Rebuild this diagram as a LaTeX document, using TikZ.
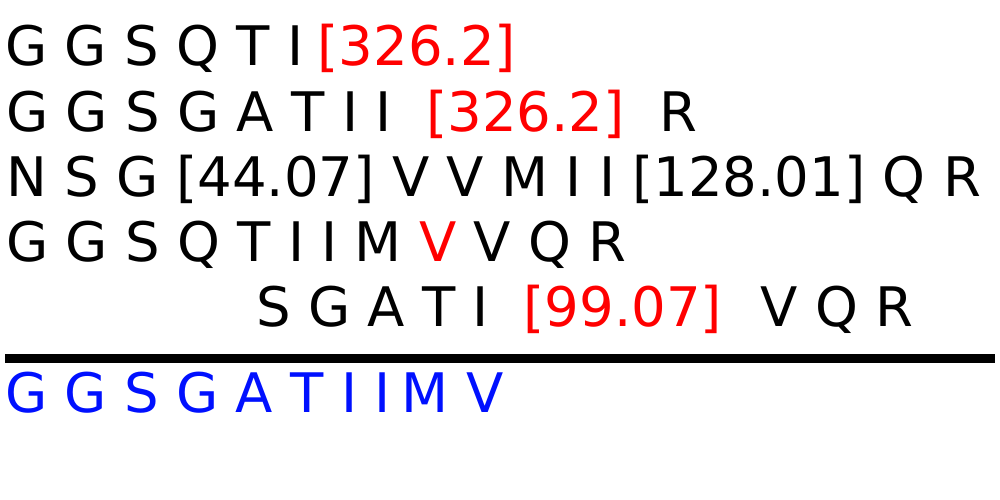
\documentclass[tikz,border=0pt]{standalone}
\usepackage{fontspec}
\setmainfont{DejaVu Sans}
\definecolor{myred}{RGB}{255,0,0}
\definecolor{myblue}{RGB}{0,16,255}
\begin{document}
\begin{tikzpicture}[x=1pt,y=-1pt,
  seq/.style={anchor=base west, inner sep=0pt, font=\fontsize{54.5}{66}\selectfont}]
\useasboundingbox (0,0) rectangle (1000,500);
\node[seq] (l1) at (5,66) {G G S Q T I\hspace{14.5pt}\textcolor{myred}{[326.2]}};
\node[seq] (l2) at (6,131.5) {G G S G A T I I\ \ \textcolor{myred}{[326.2]}\ \ R};
\node[seq] (l3) at (6.5,196.5) {N S G [44.07] V V M I I [128.01] Q R};
\node[seq] (l4) at (6,261.5) {G G S Q T I I M \textcolor{myred}{V} V Q R};
\node[seq] (l5) at (256,326.5) {S G A T I\ \ \textcolor{myred}{[99.07]}\ \ \hspace{4pt}V Q R};
\coordinate (barL) at (5,354);
\coordinate (barR) at (995,362.5);
\fill (barL) rectangle (barR);
\node[seq, text=myblue] (res) at (5,412.5) {G G S G A T I I\hspace{11.3pt}M V};
\end{tikzpicture}
\end{document}
